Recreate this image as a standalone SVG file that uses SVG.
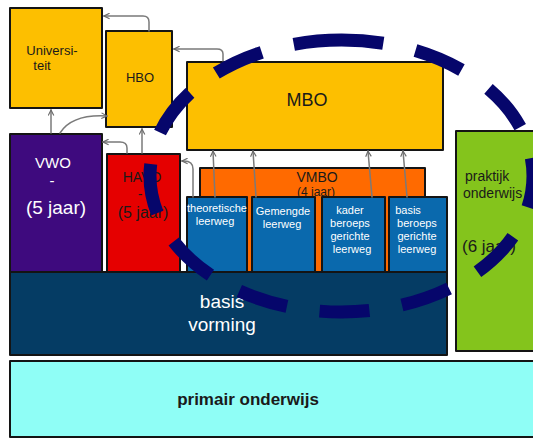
<svg xmlns="http://www.w3.org/2000/svg" width="533" height="441" viewBox="0 0 533 441">
  <defs>
    <style>
      .box { stroke: #141414; stroke-width: 2; stroke-linejoin: round; }
      .t { font-family: "Liberation Sans", "DejaVu Sans", sans-serif; text-anchor: middle; }
      .dark { fill: #1a1a1a; }
      .light { fill: #ffffff; }
      .lw { font-size: 11px; fill: #ffffff; }
      .arrow { fill: none; stroke: #7a7a7a; stroke-width: 1.5; stroke-linecap: round; stroke-linejoin: round; marker-end: url(#head); }
      .ring { fill: none; stroke: #06066b; stroke-width: 13; }
    </style>
    <marker id="head" viewBox="0 0 10 10" refX="9" refY="5" markerWidth="7" markerHeight="7" markerUnits="userSpaceOnUse" orient="auto">
      <path d="M1 1 L9 5 L1 9" fill="none" stroke="#6a6a6a" stroke-width="1.6"/>
    </marker>
  </defs>
  <rect width="533" height="441" fill="#ffffff"/>

  <g id="universiteit">
    <rect class="box" x="10" y="8" width="92" height="100" fill="#fdbf00"/>
    <text class="t dark" x="52" y="55" font-size="13">Universi-</text>
    <text class="t dark" x="42" y="70" font-size="13">teit</text>
  </g>

  <g id="hbo">
    <rect class="box" x="106" y="31" width="66" height="96" fill="#fdbf00"/>
    <text class="t dark" x="140" y="82" font-size="13">HBO</text>
  </g>

  <g id="mbo">
    <rect class="box" x="187" y="62" width="256" height="88" fill="#fdbf00"/>
    <text class="t dark" x="307" y="106" font-size="18">MBO</text>
  </g>

  <g id="vwo">
    <rect class="box" x="10" y="134" width="92" height="140" fill="#3e0a7e"/>
    <text class="t light" x="53" y="168" font-size="15">VWO</text>
    <text class="t light" x="52" y="186" font-size="15">-</text>
    <text class="t light" x="56" y="214" font-size="19">(5 jaar)</text>
  </g>

  <g id="havo">
    <rect class="box" x="107" y="154" width="73" height="120" fill="#e50000"/>
    <text class="t dark" x="142" y="182" font-size="14">HAVO</text>
    <text class="t dark" x="140" y="199" font-size="14">-</text>
    <text class="t dark" x="143" y="218" font-size="16">(5 jaar)</text>
  </g>

  <g id="vmbo">
    <rect class="box" x="200" y="168" width="225" height="106" fill="#ff6a00"/>
    <text class="t dark" x="317" y="182" font-size="14">VMBO</text>
    <text class="t dark" x="316" y="196" font-size="12">(4 jaar)</text>
  </g>

  <g id="theoretische-leerweg">
    <rect class="box" x="187" y="197" width="60" height="77" fill="#0a69ad"/>
    <text class="t lw" x="217" y="212" font-size="9.5">theoretische</text>
    <text class="t lw" x="215" y="225" font-size="9.5">leerweg</text>
  </g>

  <g id="gemengde-leerweg">
    <rect class="box" x="252" y="197" width="63" height="77" fill="#0a69ad"/>
    <text class="t lw" x="283" y="215">Gemengde</text>
    <text class="t lw" x="282" y="228">leerweg</text>
  </g>

  <g id="kader-beroepsgerichte-leerweg">
    <rect class="box" x="322" y="197" width="63" height="77" fill="#0a69ad"/>
    <text class="t lw" x="350" y="214">kader</text>
    <text class="t lw" x="350" y="227">beroeps</text>
    <text class="t lw" x="350" y="240">gerichte</text>
    <text class="t lw" x="352" y="253">leerweg</text>
  </g>

  <g id="basis-beroepsgerichte-leerweg">
    <rect class="box" x="389" y="197" width="58" height="77" fill="#0a69ad"/>
    <text class="t lw" x="408" y="214">basis</text>
    <text class="t lw" x="417" y="227">beroeps</text>
    <text class="t lw" x="417" y="240">gerichte</text>
    <text class="t lw" x="417" y="253">leerweg</text>
  </g>

  <g id="basisvorming">
    <rect class="box" x="10" y="272" width="437" height="83" fill="#053c64"/>
    <text class="t light" x="222" y="308" font-size="19">basis</text>
    <text class="t light" x="222" y="331" font-size="19">vorming</text>
  </g>

  <g id="praktijkonderwijs">
    <rect class="box" x="456" y="131" width="82" height="220" fill="#84c41c"/>
    <text class="t dark" x="465" y="181" font-size="14" style="text-anchor:start">praktijk</text>
    <text class="t dark" x="463" y="198" font-size="14" style="text-anchor:start">onderwijs</text>
    <text class="t dark" x="462" y="252" font-size="17" style="text-anchor:start">(6 jaar)</text>
  </g>

  <g id="primair-onderwijs">
    <rect class="box" x="10" y="361" width="530" height="76" fill="#8ffef6"/>
    <text class="t dark" x="248" y="405" font-size="17" font-weight="bold">primair onderwijs</text>
  </g>

  <g id="connectors">
    <path class="arrow" d="M149 31 V22 Q149 16 143 16 H104"/>
    <path class="arrow" d="M223 61 V54 Q223 49 217 49 H174"/>
    <path class="arrow" d="M51 133 V110"/>
    <path class="arrow" d="M60 133 Q72 114 107 116"/>
    <path class="arrow" d="M142 153 V129"/>
    <path class="arrow" d="M127 153 V148 Q127 142 120 142 H103"/>
    <path class="arrow" d="M193 197 V169 Q193 161 184 161 H182"/>
    <path class="arrow" d="M215 197 L213 151"/>
    <path class="arrow" d="M256 197 L253 151"/>
    <path class="arrow" d="M372 197 L368 151"/>
    <path class="arrow" d="M407 197 L403 151"/>
  </g>

  <g id="vmbo-ring">
    <path class="ring" pathLength="1036" stroke-dasharray="50 33" stroke-dashoffset="8" d="M341.5 40 A191.5 136 0 0 1 341.5 312 A191.5 136 0 0 1 341.5 40"/>
  </g>
</svg>
